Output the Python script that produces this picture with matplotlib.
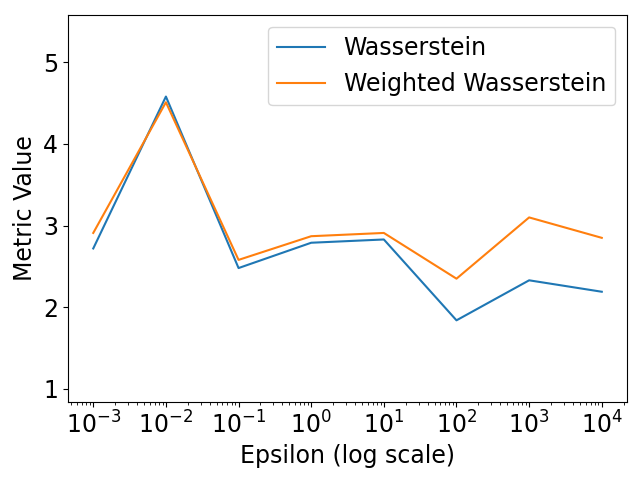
import matplotlib
matplotlib.use("Agg")
import matplotlib.pyplot as plt
from matplotlib.ticker import LogLocator

epsilons = [1e-3, 1e-2, 1e-1, 1e0, 1e1, 1e2, 1e3, 1e4]
wasserstein = [2.72, 4.58, 2.48, 2.79, 2.83, 1.84, 2.33, 2.19]
weighted = [2.91, 4.51, 2.58, 2.87, 2.91, 2.35, 3.10, 2.85]

plt.rcParams['font.size'] = 17
fig, ax = plt.subplots(figsize=(6.4, 4.8), dpi=100)
ax.plot(epsilons, wasserstein, label="Wasserstein")
ax.plot(epsilons, weighted, label="Weighted Wasserstein")
ax.set_xscale("log")
ax.xaxis.set_major_locator(LogLocator(base=10, numticks=20))
ax.xaxis.set_minor_locator(LogLocator(base=10, subs=range(2, 10), numticks=20))
ax.tick_params(labelsize=17)
allv = wasserstein + weighted
ax.set_ylim(min(allv) - 1, max(allv) + 1)
ax.set_xlabel("Epsilon (log scale)")
ax.set_ylabel("Metric Value")
ax.legend()
fig.subplots_adjust(left=0.106, right=0.980, top=0.969, bottom=0.1625)
fig.savefig("out.png")
